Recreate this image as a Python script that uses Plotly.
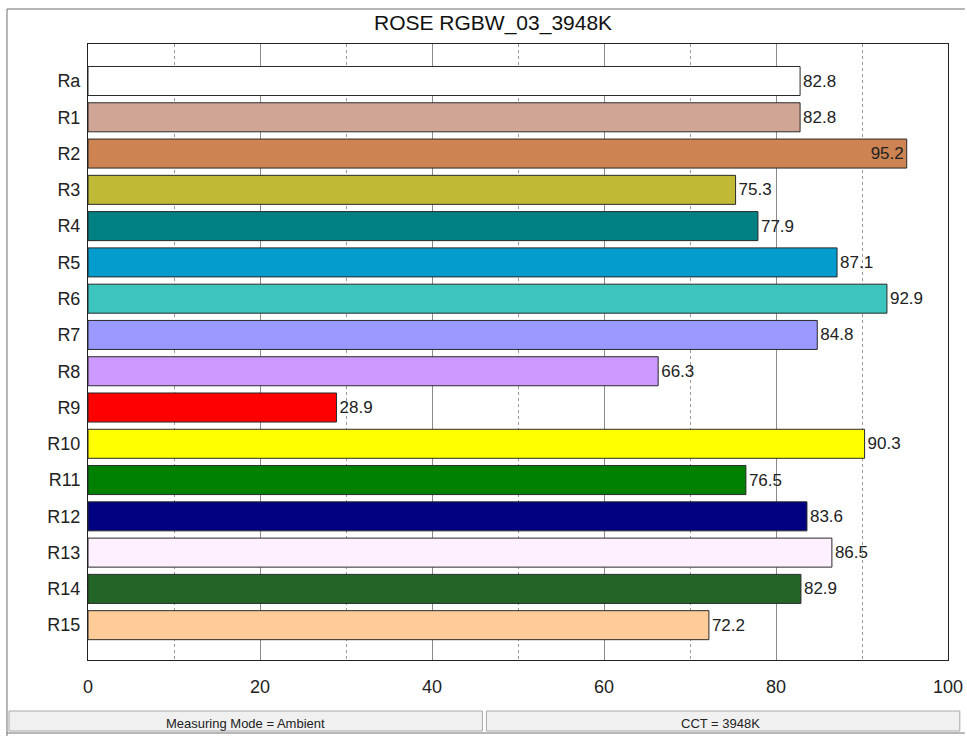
import plotly.graph_objects as go

categories = ["Ra", "R1", "R2", "R3", "R4", "R5", "R6", "R7", "R8", "R9",
              "R10", "R11", "R12", "R13", "R14", "R15"]
values = [82.8, 82.8, 95.2, 75.3, 77.9, 87.1, 92.9, 84.8, 66.3, 28.9,
          90.3, 76.5, 83.6, 86.5, 82.9, 72.2]
colors = ["#ffffff", "#cfa595", "#cd8352", "#c0b935", "#008080", "#049bcd",
          "#3cc4bf", "#9999ff", "#cc99ff", "#ff0000", "#ffff00", "#008000",
          "#000080", "#fff0ff", "#236526", "#ffcc99"]
label_pos = ["inside" if c == "R2" else "outside" for c in categories]
x_ticks = [0, 20, 40, 60, 80, 100]
title_text = "ROSE RGBW_03_3948K"
status_left = "Measuring Mode = Ambient"
status_right = "CCT = 3948K"

# the captured viewport is slightly wider than the picture, so lay out on a 975px-wide canvas
SX = 975 / 967
W, H = 975, 736
L, T = round(87 * SX), 44
R = W - round(950 * SX)
B = H - 660
pw, ph = W - L - R, H - T - B


def px(x):
    return (x * SX - L) / pw


def py(y):
    return (H - B - y) / ph


FONT = "Liberation Sans, Arial, sans-serif"

fig = go.Figure()
fig.add_trace(go.Bar(
    y=categories, x=values, orientation="h",
    marker=dict(color=colors, line=dict(color="#2a2a2a", width=1)),
    text=[f"{v:.1f}" for v in values],
    textposition=label_pos,
    insidetextanchor="end",
    textfont=dict(family=FONT, size=17, color="#222222"),
    insidetextfont=dict(family=FONT, size=17, color="#222222"),
    outsidetextfont=dict(family=FONT, size=17, color="#222222"),
    cliponaxis=False,
    hoverinfo="skip",
))

shapes = [
    dict(type="line", xref="paper", yref="paper", x0=px(6), x1=px(967), y0=py(9), y1=py(9),
         line=dict(color="#6e6e6e", width=1)),
    dict(type="line", xref="paper", yref="paper", x0=px(6), x1=px(6), y0=py(9), y1=py(736),
         line=dict(color="#6e6e6e", width=1)),
    dict(type="rect", xref="paper", yref="paper", x0=px(8), x1=px(483), y0=py(711), y1=py(731),
         fillcolor="#f0f0f0", line=dict(color="#a8a8a8", width=1)),
    dict(type="rect", xref="paper", yref="paper", x0=px(487), x1=px(962), y0=py(711), y1=py(731),
         fillcolor="#f0f0f0", line=dict(color="#a8a8a8", width=1)),
    dict(type="line", xref="paper", yref="paper", x0=px(6), x1=px(967), y0=py(733), y1=py(733),
         line=dict(color="#6e6e6e", width=1)),
]

annotations = [
    dict(text=title_text, xref="paper", yref="paper", x=px(494), y=py(23),
         showarrow=False, xanchor="center", yanchor="middle",
         font=dict(family=FONT, size=21, color="#111111")),
    dict(text=status_left, xref="paper", yref="paper", x=px(245), y=py(723),
         showarrow=False, xanchor="center", yanchor="middle",
         font=dict(family=FONT, size=13, color="#222222")),
    dict(text=status_right, xref="paper", yref="paper", x=px(722), y=py(723),
         showarrow=False, xanchor="center", yanchor="middle",
         font=dict(family=FONT, size=13, color="#222222")),
]

fig.update_layout(
    width=W, height=H,
    margin=dict(l=L, r=R, t=T, b=B, pad=0),
    paper_bgcolor="white", plot_bgcolor="white",
    showlegend=False,
    bargap=0.2,
    shapes=shapes,
    annotations=annotations,
    font=dict(family=FONT, size=18, color="#222222"),
)
fig.update_xaxes(
    range=[0, 100], tickvals=x_ticks, ticktext=[str(t) for t in x_ticks],
    showgrid=True, gridcolor="#8a8a8a", gridwidth=1,
    minor=dict(dtick=10, tick0=0, showgrid=True, gridcolor="#9a9a9a", griddash="dot", gridwidth=1),
    showline=True, linecolor="#222222", linewidth=1, mirror=True,
    zeroline=False, ticks="", ticklabelstandoff=10,
    tickfont=dict(family=FONT, size=18, color="#222222"),
)
fig.update_yaxes(
    categoryorder="array", categoryarray=categories,
    range=[15.96, -1.02],
    showgrid=False, showline=True, linecolor="#222222", linewidth=1, mirror=True,
    zeroline=False, ticks="", ticklabelstandoff=3,
    tickfont=dict(family=FONT, size=18, color="#222222"),
)

page_fix = ("document.body.style.margin='0';"
            "document.body.style.overflow='hidden';"
            "document.documentElement.style.overflow='hidden';")

fig.write_html("out.html", post_script=page_fix,
               config={"displayModeBar": False, "staticPlot": True})
